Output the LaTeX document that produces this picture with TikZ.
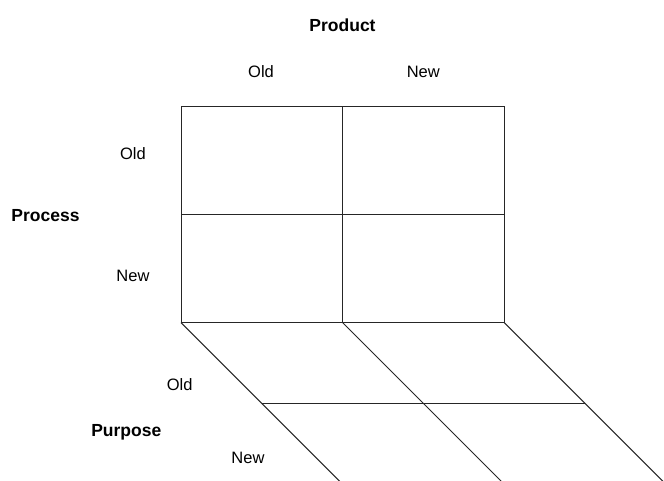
\documentclass[tikz,border=0pt]{standalone}
\usepackage{fontspec}
\setmainfont{Liberation Sans}
\usetikzlibrary{calc}
\begin{document}
\begin{tikzpicture}[x=1pt,y=-1pt,
  gridline/.style={draw=black!85, line width=1pt},
  lbl/.style={inner sep=0pt, anchor=base, font=\fontsize{16.5}{18}\selectfont},
  ttl/.style={inner sep=0pt, anchor=base, font=\fontsize{17.5}{19}\selectfont\bfseries}]
\useasboundingbox (0,0) rectangle (664,481);
\clip (0,0) rectangle (664,481);
% corners
\coordinate (tl) at (181,106.7);
\coordinate (tm) at (342.7,106.7);
\coordinate (tr) at (504.3,106.7);
\coordinate (ml) at (181,214.7);
\coordinate (mr) at (504.3,214.7);
\coordinate (bl) at (181,322.7);
\coordinate (bm) at (342.7,322.7);
\coordinate (br) at (504.3,322.7);
\coordinate (dl) at ($(bl)+(160,160)$);
\coordinate (dm) at ($(bm)+(160,160)$);
\coordinate (dr) at ($(br)+(160,160)$);
\coordinate (hl) at ($(bl)+(80.6,80.6)$);
\coordinate (hr) at ($(br)+(80.6,80.6)$);
% front grid
\draw[gridline] (tl) rectangle (br);
\draw[gridline] (tm) -- (bm);
\draw[gridline] (ml) -- (mr);
% floor
\draw[gridline] (bl) -- (dl);
\draw[gridline] (bm) -- (dm);
\draw[gridline] (br) -- (dr);
\draw[gridline] (hl) -- (hr);
% labels
\node[ttl] (product) at (342.5,31.7) {Product};
\node[lbl] (pold) at (261,78) {Old};
\node[lbl] (pnew) at (423.3,78) {New};
\node[ttl] (process) at (45.5,221.7) {Process};
\node[lbl] (rold) at (133,159.3) {Old};
\node[lbl] (rnew) at (133,281.7) {New};
\node[ttl] (purpose) at (126.3,436) {Purpose};
\node[lbl] (uold) at (179.7,390) {Old};
\node[lbl] (unew) at (248,463.3) {New};
\end{tikzpicture}
\end{document}
